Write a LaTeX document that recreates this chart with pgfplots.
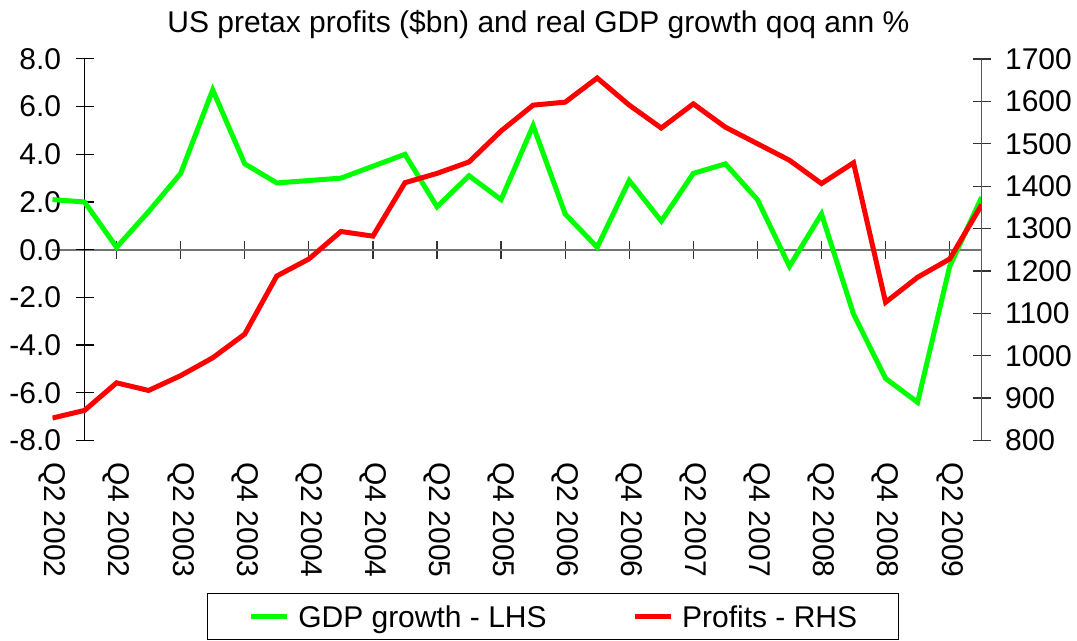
\documentclass[border=0pt]{standalone}
\usepackage{fontspec}
\setmainfont{Liberation Sans}
\usepackage{pgfplots}
\pgfplotsset{compat=1.18}
\newcommand\F{\fontsize{15}{18}\selectfont}
\definecolor{gdpgreen}{RGB}{0,255,0}
\definecolor{profred}{RGB}{255,0,0}

\pgfplotstableread{
x gdp
-1 2.1
0 2.0
1 0.1
2 1.6
3 3.2
4 6.7
5 3.6
6 2.8
7 2.9
8 3.0
9 3.5
10 4.0
11 1.8
12 3.1
13 2.1
14 5.2
15 1.5
16 0.1
17 2.9
18 1.2
19 3.2
20 3.6
21 2.1
22 -0.7
23 1.5
24 -2.7
25 -5.4
26 -6.4
27 -0.7
28 2.2
}\gdptable

\pgfplotstableread{
x profits
-1 853
0 871
1 936
2 918
3 953
4 995
5 1051
6 1188
7 1228
8 1293
9 1282
10 1408
11 1430
12 1457
13 1530
14 1591
15 1598
16 1655
17 1591
18 1537
19 1594
20 1539
21 1500
22 1461
23 1406
24 1455
25 1126
26 1185
27 1228
28 1356
}\proftable

\pgfplotsset{
  base/.style={
    at={(0pt,0pt)}, anchor=south west,
    scale only axis, width=464.6pt, height=190.8pt,
    xmin=-1, xmax=28,
    tick align=center, major tick length=9pt,
    tick label style={font=\F},
  },
}

\begin{document}
\F
\begin{tikzpicture}
\useasboundingbox (-26.25pt,-100.25pt) rectangle (512.25pt,220.25pt);

% zero line with x tick marks
\begin{axis}[base,
  ymin=-8, ymax=8,
  axis x line=middle, axis y line=none,
  x axis line style={-, black!55, line width=0.9pt},
  xtick={1,3,...,27}, xticklabels={},
  major tick style={black!80, line width=0.6pt},
]
\end{axis}

% x tick labels at the bottom
\begin{axis}[base,
  ymin=-8, ymax=8,
  axis x line=bottom, axis y line=none,
  x axis line style={draw=none},
  major tick length=0pt,
  xtick={-1,1,...,27},
  xticklabels={Q2 2002,Q4 2002,Q2 2003,Q4 2003,Q2 2004,Q4 2004,Q2 2005,Q4 2005,Q2 2006,Q4 2006,Q2 2007,Q4 2007,Q2 2008,Q4 2008,Q2 2009},
  xticklabel style={rotate=-90, anchor=west, inner sep=0pt},
  xticklabel shift=10.75pt,
]
\end{axis}

% left axis: GDP growth
\begin{axis}[base,
  ymin=-8, ymax=8,
  axis x line=none, axis y line=middle,
  y axis line style={-, black, line width=0.75pt},
  major tick style={black, line width=0.6pt},
  ytick={-8,-6,...,8},
  yticklabels={-8.0,-6.0,-4.0,-2.0,0.0,2.0,4.0,6.0,8.0},
  yticklabel style={anchor=east, inner sep=0pt},
  yticklabel shift=7pt,
  every axis title shift=0pt,
  title={US pretax profits (\$bn) and real GDP growth qoq ann \%},
  title style={at={(0.523,1.0687)}, anchor=base, inner sep=0pt, font=\F},
]
\addplot[gdpgreen, line width=2.5pt] table[x=x, y=gdp] {\gdptable};
\end{axis}

% right axis: profits
\begin{axis}[base,
  ymin=800, ymax=1700,
  axis x line=none, axis y line=right,
  y axis line style={-, black!65, line width=0.75pt},
  major tick style={black!80, line width=0.6pt},
  ytick={800,900,...,1700},
  yticklabels={800,900,1000,1100,1200,1300,1400,1500,1600,1700},
  yticklabel style={anchor=west, inner sep=0pt},
  yticklabel shift=7pt,
  legend columns=2,
  legend style={at={(0.5386,-0.5228)}, anchor=south, draw=black, line width=0.5pt,
    font=\F, inner xsep=20.5pt, inner ysep=6pt,
    nodes={inner sep=0pt, text height=10.75pt, text depth=0pt},
    /tikz/every odd column/.append style={column sep=4.25pt},
    /tikz/every even column/.append style={column sep=43pt},
  },
  legend image code/.code={\draw[#1, line width=2.5pt] (0pt,0pt) -- (18pt,0pt);},
]
\addlegendimage{gdpgreen, line width=2.5pt}
\addlegendentry{GDP growth - LHS}
\addplot[profred, line width=2.5pt] table[x=x, y=profits] {\proftable};
\addlegendentry{Profits - RHS}
\end{axis}
\end{tikzpicture}
\end{document}
